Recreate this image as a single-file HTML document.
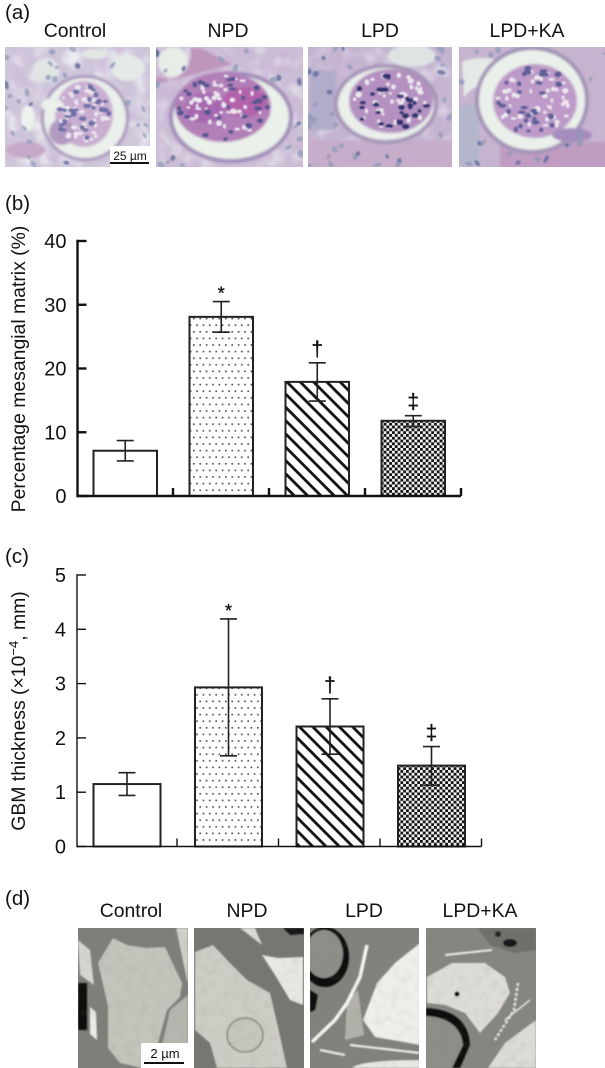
<!DOCTYPE html>
<html>
<head>
<meta charset="utf-8">
<title>Renal histology and morphometry figure</title>
<style>
html,body{margin:0;padding:0;background:#fff;}
svg{display:block;}
text{font-family:"Liberation Sans",sans-serif;fill:#111;}
</style>
</head>
<body>
<svg id="fig" xmlns="http://www.w3.org/2000/svg" width="605" height="1068" viewBox="0 0 605 1068">
<defs>
<pattern id="dots" patternUnits="userSpaceOnUse" width="6.4" height="13.2" x="0" y="0">
  <rect width="6.4" height="13.2" fill="#fff"/>
  <rect x="1" y="1" width="1.6" height="1.6" fill="#444"/>
  <rect x="4.2" y="7.6" width="1.6" height="1.6" fill="#444"/>
</pattern>
<pattern id="hatch" patternUnits="userSpaceOnUse" width="9.4" height="9.4" patternTransform="rotate(45)">
  <rect width="9.4" height="9.4" fill="#fff"/>
  <rect x="0" y="0" width="9.4" height="2.8" fill="#111"/>
</pattern>
<pattern id="check" patternUnits="userSpaceOnUse" width="5.6" height="5.6">
  <rect width="5.6" height="5.6" fill="#eee"/>
  <rect width="2.8" height="2.8" fill="#151515"/>
  <rect x="2.8" y="2.8" width="2.8" height="2.8" fill="#151515"/>
</pattern>
<filter id="soft" x="-5%" y="-5%" width="110%" height="110%"><feGaussianBlur stdDeviation="0.7"/></filter>
<filter id="soft2" x="-5%" y="-5%" width="110%" height="110%"><feGaussianBlur stdDeviation="1.2"/></filter>
<filter id="paleBlotch" x="0" y="0" width="100%" height="100%">
  <feTurbulence type="fractalNoise" baseFrequency=".06" numOctaves="2" seed="4"/>
  <feColorMatrix values="0 0 0 0 .90  0 0 0 0 .92  0 0 0 0 .93  3 0 0 0 -1.4"/>
  <feGaussianBlur stdDeviation="1"/>
</filter>
<filter id="darkBlotch" x="0" y="0" width="100%" height="100%">
  <feTurbulence type="fractalNoise" baseFrequency=".08" numOctaves="2" seed="11"/>
  <feColorMatrix values="0 0 0 0 .60  0 0 0 0 .45  0 0 0 0 .68  0 3 0 0 -1.4"/>
  <feGaussianBlur stdDeviation="1"/>
</filter>
<filter id="greyGrain" x="0" y="0" width="100%" height="100%">
  <feTurbulence type="fractalNoise" baseFrequency=".12" numOctaves="2" seed="7"/>
  <feColorMatrix values="0 0 0 0 .2  0 0 0 0 .2  0 0 0 0 .19  2 0 0 0 -.9"/>
  <feGaussianBlur stdDeviation=".8"/>
</filter>
<clipPath id="a1"><rect x="5" y="47" width="145" height="120"/></clipPath>
<clipPath id="a2"><rect x="156" y="47" width="147" height="120"/></clipPath>
<clipPath id="a3"><rect x="308" y="47" width="144" height="120"/></clipPath>
<clipPath id="a4"><rect x="459" y="47" width="146" height="120"/></clipPath>
<clipPath id="d1"><rect x="78" y="928" width="110" height="140"/></clipPath>
<clipPath id="d2"><rect x="194" y="928" width="110" height="140"/></clipPath>
<clipPath id="d3"><rect x="310" y="928" width="109" height="140"/></clipPath>
<clipPath id="d4"><rect x="426" y="928" width="110" height="140"/></clipPath>
</defs>

<text x="5" y="19" font-size="20.5">(a)</text>
<g font-size="19.4" text-anchor="middle">
<text x="75" y="37">Control</text>
<text x="228" y="37">NPD</text>
<text x="380" y="37">LPD</text>
<text x="527" y="37">LPD+KA</text>
</g>

<g clip-path="url(#a1)">
  <rect x="5" y="47" width="145" height="120" fill="#cfc6da"/>
  <rect x="5" y="47" width="145" height="120" filter="url(#paleBlotch)" opacity=".8"/>
  <rect x="5" y="47" width="145" height="120" filter="url(#darkBlotch)" opacity=".5"/>
  <g filter="url(#soft2)">
    <ellipse cx="46" cy="70" rx="13" ry="12" fill="#e1e6e5"/>
    <ellipse cx="128" cy="68" rx="17" ry="13" fill="#e4eae7"/>
    <ellipse cx="95" cy="54" rx="14" ry="5" fill="#e2e7e5"/>
    <ellipse cx="28" cy="118" rx="7" ry="13" fill="#eef1ee"/>
    <ellipse cx="26" cy="150" rx="20" ry="8" fill="#c6a9c8"/>
    <ellipse cx="85" cy="118" rx="44" ry="43" fill="#a895bb"/>
    <ellipse cx="85" cy="118" rx="41" ry="40" fill="#ebf0ea"/>
    <ellipse cx="84" cy="114" rx="29" ry="33" fill="#c9aed1"/>
    <ellipse cx="62" cy="132" rx="13" ry="13" fill="#b29ac2"/>
    <ellipse cx="52" cy="105" rx="11" ry="7" fill="#ebf0ea"/>
  </g>
  <g id="cells-a1" filter="url(#soft)"></g>
</g>
<g clip-path="url(#a2)">
  <rect x="156" y="47" width="147" height="120" fill="#cbbdd5"/>
  <rect x="156" y="47" width="147" height="120" filter="url(#paleBlotch)" opacity=".6"/>
  <rect x="156" y="47" width="147" height="120" filter="url(#darkBlotch)" opacity=".8"/>
  <g filter="url(#soft2)">
    <ellipse cx="173" cy="62" rx="15" ry="15" fill="#e8ede8"/>
    <path d="M156 84 Q205 72 232 64 L200 48 L190 48 Q195 70 170 80 L156 76Z" fill="#bd95bd"/>
    <ellipse cx="231" cy="117" rx="62" ry="46" fill="#a08cb8"/>
    <ellipse cx="231" cy="117" rx="58" ry="42" fill="#eaf0ea"/>
    <ellipse cx="223" cy="107" rx="48" ry="35" fill="#b27fb8"/>
    <ellipse cx="245" cy="102" rx="22" ry="15" fill="#b264aa"/>
    <ellipse cx="205" cy="108" rx="20" ry="15" fill="#a669af"/>
  </g>
  <g id="cells-a2" filter="url(#soft)"></g>
</g>
<g clip-path="url(#a3)">
  <rect x="308" y="47" width="144" height="120" fill="#c3b4cf"/>
  <rect x="308" y="47" width="144" height="120" filter="url(#paleBlotch)" opacity=".5"/>
  <rect x="308" y="47" width="144" height="120" filter="url(#darkBlotch)" opacity=".8"/>
  <g filter="url(#soft2)">
    <rect x="310" y="70" width="26" height="60" fill="#b2accb"/>
    <ellipse cx="412" cy="56" rx="24" ry="11" fill="#dde4e2"/>
    <rect x="308" y="140" width="144" height="30" fill="#c6adca"/>
    <ellipse cx="386" cy="104" rx="52" ry="40" fill="#a594b8"/>
    <ellipse cx="386" cy="104" rx="48" ry="36" fill="#eaf0ea"/>
    <ellipse cx="391" cy="101" rx="42" ry="32" fill="#b491c0"/>
  </g>
  <g id="cells-a3" filter="url(#soft)"></g>
</g>
<g clip-path="url(#a4)">
  <rect x="459" y="47" width="146" height="120" fill="#c6b4ce"/>
  <rect x="459" y="47" width="146" height="120" filter="url(#darkBlotch)" opacity=".8"/>
  <g filter="url(#soft2)">
    <rect x="459" y="105" width="20" height="60" fill="#b4b7cc"/>
    <path d="M462 62 Q480 55 497 60 L488 88 Q474 82 464 98Z" fill="#e6eae6"/>
    <rect x="500" y="142" width="110" height="28" fill="#c09cc2"/>
    <ellipse cx="532" cy="100" rx="57" ry="54" fill="#a192b6"/>
    <ellipse cx="532" cy="100" rx="53" ry="50" fill="#eaf0ea"/>
    <ellipse cx="535" cy="101" rx="42" ry="37" fill="#bd9ac8"/>
    <ellipse cx="572" cy="135" rx="20" ry="7" fill="#a48cbc"/>
  </g>
  <g id="cells-a4" filter="url(#soft)"></g>
</g>
<rect x="110" y="146" width="40" height="21" fill="#fff"/>
<text x="130" y="160" font-size="12" text-anchor="middle">25 µm</text>
<rect x="110" y="162" width="39" height="2" fill="#111"/>

<text x="5" y="210" font-size="20.5">(b)</text>
<g id="chart-b"></g>

<text x="5" y="563" font-size="20.5">(c)</text>
<g id="chart-c"></g>

<text x="5" y="905" font-size="20.5">(d)</text>
<g font-size="19.4" text-anchor="middle">
<text x="131" y="917">Control</text>
<text x="247" y="917">NPD</text>
<text x="364" y="917">LPD</text>
<text x="480" y="917">LPD+KA</text>
</g>

<g clip-path="url(#d1)">
  <rect x="78" y="928" width="110" height="140" fill="#7f7f7a"/>
  <g filter="url(#soft)">
    <path d="M176 928 H188 V985Z" fill="#d0d0ca"/>
    <path d="M170 1010 L188 995 V1045 L162 1045Z" fill="#b6b6af"/>
    <path d="M78 940 L90 950 L94 985 L80 975Z" fill="#d6d6d0"/>
    <path d="M98 963 L113 938 L127 945 L147 948 L165 947 L182 983 L180 997 L167 1010 L158 1043 L142 1068 L120 1063 L108 1048 L108 1007 L105 993Z" fill="#c4c4bc"/>
    <rect x="78" y="983" width="9" height="47" fill="#0e0e0e"/>
    <path d="M90 1007 L96 1012 L97 1040 L90 1034Z" fill="#ecece8"/>
  </g>
  <rect x="78" y="928" width="110" height="140" filter="url(#greyGrain)" opacity=".15"/>
</g>
<g clip-path="url(#d2)">
  <rect x="194" y="928" width="110" height="140" fill="#777772"/>
  <g filter="url(#soft)">
    <path d="M195 952 L213 945 L230 963 L247 980 L270 993 L278 1027 L287 1068 L217 1068 L210 1043 L195 1030Z" fill="#cdcdc5"/>
    <path d="M262 955 L278 958 L303 957 V1005 L290 1000 L275 975Z" fill="#e8e8e3"/>
    <path d="M240 928 L262 945 L255 928Z" fill="#dcdcd6"/>
    <ellipse cx="245" cy="1035" rx="18" ry="17" fill="#c6c6be" stroke="#85857e" stroke-width="1.6"/>
    <path d="M283 928 H304 V934 L290 935Z" fill="#161616"/>
  </g>
  <rect x="194" y="928" width="110" height="140" filter="url(#greyGrain)" opacity=".15"/>
</g>
<g clip-path="url(#d3)">
  <rect x="310" y="928" width="110" height="140" fill="#82827c"/>
  <g filter="url(#soft)">
    <path d="M420 943 L395 963 L377 983 L363 1020 L375 1037 L420 1045Z" fill="#eeeeea"/>
    <path d="M347 1000 L358 990 L364 1035 L345 1040Z" fill="#b2b2aa"/>
    <ellipse cx="325" cy="957" rx="24" ry="30" fill="#111"/>
    <ellipse cx="324" cy="954" rx="19" ry="24" fill="#8e8e88"/>
    <path d="M310 990 L318 995 L315 1010 L310 1012Z" fill="#111"/>
    <path d="M367 945 L360 977 L347 1003 L335 1020 L312 1042" fill="none" stroke="#f6f6f4" stroke-width="3.5"/>
    <path d="M350 1045 L420 1053 M320 1050 L345 1055" fill="none" stroke="#f0f0ec" stroke-width="2.2"/>
    <path d="M352 1068 Q360 1060 420 1060 V1068Z" fill="#e8e8e4"/>
  </g>
  <rect x="310" y="928" width="110" height="140" filter="url(#greyGrain)" opacity=".15"/>
</g>
<g clip-path="url(#d4)">
  <rect x="426" y="928" width="110" height="140" fill="#868680"/>
  <g filter="url(#soft)">
    <path d="M427 977 L452 963 L485 963 L505 977 L510 993 L498 1013 L480 1033 L465 1013 L445 1005 L427 1003Z" fill="#dedcd6"/>
    <path d="M426 1008 Q468 1010 470 1045 L460 1068 H426Z" fill="#101010"/>
    <path d="M426 1016 Q460 1018 463 1045 L452 1068 H426Z" fill="#8e8e88"/>
    <path d="M478 928 H536 V950 L515 953 L490 945Z" fill="#6f6f6a"/>
    <ellipse cx="510" cy="943" rx="7" ry="4" fill="#161616"/>
    <circle cx="498" cy="934" r="3" fill="#222"/>
    <path d="M488 1068 L505 1043 L536 1020 V1068Z" fill="#dcdcd6"/>
    <path d="M445 955 L492 950" stroke="#f0f0ec" stroke-width="2" fill="none"/>
    <path d="M518 983 L514 1010 L495 1040" stroke="#f0f0ec" stroke-width="2.4" stroke-dasharray="3 2" fill="none"/>
    <path d="M530 1000 L505 1020" stroke="#e8e8e4" stroke-width="1.6" fill="none"/>
    <circle cx="457" cy="994" r="2.6" fill="#050505"/>
  </g>
  <rect x="426" y="928" width="110" height="140" filter="url(#greyGrain)" opacity=".15"/>
</g>
<rect x="141" y="1043" width="47" height="25" fill="#fff"/>
<text x="165" y="1058" font-size="13" text-anchor="middle">2 µm</text>
<rect x="144" y="1062" width="40" height="2" fill="#111"/>

<script>
// Chart data
var groupNames = ['Control', 'NPD', 'LPD', 'LPD+KA'];
var fills = ['#fff', 'url(#dots)', 'url(#hatch)', 'url(#check)'];
var marks = ['', '*', '†', '‡'];

var bTicks = [0, 10, 20, 30, 40];
var bMeans = [7.1, 28.1, 17.9, 11.8];
var bUpper = [8.7, 30.5, 20.9, 12.6];
var bLower = [5.5, 25.7, 14.9, 10.9];

var cTicks = [0, 1, 2, 3, 4, 5];
var cMeans = [1.15, 2.93, 2.21, 1.49];
var cUpper = [1.36, 4.19, 2.72, 1.84];
var cLower = [0.94, 1.67, 1.70, 1.13];

var NS = 'http://www.w3.org/2000/svg';
function mk(parent, tag, attrs, txt) {
  var e = document.createElementNS(NS, tag);
  for (var k in attrs) e.setAttribute(k, attrs[k]);
  if (txt !== undefined) e.textContent = txt;
  parent.appendChild(e);
  return e;
}

function drawChart(g, o) {
  function y(v) { return o.y0 - v * (o.y0 - o.yTop) / o.ticks[o.ticks.length - 1]; }
  function bandLeft(i) { return o.x0 + o.pad + i * o.step; }

  o.means.forEach(function (m, i) {
    var b = mk(g, 'rect', { x: bandLeft(i), y: y(m), width: o.barW, height: y(0) - y(m), fill: fills[i], stroke: '#222', 'stroke-width': o.barStroke });
    
    

    var cx = bandLeft(i) + o.barW / 2;
    var eb = mk(g, 'path', {
      d: 'M' + cx + ' ' + y(o.lower[i]) + 'V' + y(o.upper[i]) +
         'M' + (cx - 8.5) + ' ' + y(o.upper[i]) + 'h17' +
         'M' + (cx - 8.5) + ' ' + y(o.lower[i]) + 'h17',
      fill: 'none', stroke: '#222', 'stroke-width': 1.6
    });
    
    

    if (marks[i]) {
      var t = mk(g, 'text', { x: cx, y: y(o.upper[i]) - (marks[i] === '*' ? 2 : 7), 'font-size': marks[i] === '*' ? 18 : 21, 'text-anchor': 'middle', stroke: '#111', 'stroke-width': 0.3 }, marks[i]);
      
      
    }
  });

  var xEnd = bandLeft(o.means.length - 1) + o.barW + o.pad;
  var axisY = mk(g, 'path', { d: 'M' + o.x0 + ' ' + (y(0) + o.axisW / 2) + 'V' + (y(o.ticks[o.ticks.length - 1]) - o.axisW / 2), stroke: '#111', 'stroke-width': o.axisW, fill: 'none' });
  
  
  var axisX = mk(g, 'path', { d: 'M' + o.x0 + ' ' + y(0) + 'H' + xEnd, stroke: '#111', 'stroke-width': o.axisW, fill: 'none' });
  
  

  o.ticks.forEach(function (v) {
    var tk = mk(g, 'path', { d: 'M' + o.x0 + ' ' + y(v) + 'h9', stroke: '#111', 'stroke-width': o.axisW, fill: 'none' });
    
    
    var lb = mk(g, 'text', { x: o.x0 - 11, y: y(v) + 7, 'font-size': 20, 'text-anchor': 'end' }, String(v));
    
    
  });
  o.means.forEach(function (m, i) {
    var xt = bandLeft(i) + o.barW + o.pad;
    var tk = mk(g, 'path', { d: 'M' + xt + ' ' + y(0) + 'v-8', stroke: '#111', 'stroke-width': o.axisW, fill: 'none' });
    
    
  });
}

var chartB = document.getElementById('chart-b');
var chartC = document.getElementById('chart-c');

drawChart(chartB, { ticks: bTicks, means: bMeans, upper: bUpper, lower: bLower, x0: 77.5, y0: 496, yTop: 241, pad: 16, step: 96, barW: 63.5, barStroke: 2, axisW: 2.4 });
drawChart(chartC, { ticks: cTicks, means: cMeans, upper: cUpper, lower: cLower, x0: 77, y0: 846.5, yTop: 575, pad: 16.5, step: 101.5, barW: 67, barStroke: 2, axisW: 1.4 });

var tb = mk(chartB, 'text', { transform: 'translate(25,369) rotate(-90)', 'font-size': 19.4, 'text-anchor': 'middle' }, 'Percentage mesangial matrix (%)');



var tc = mk(chartC, 'text', { transform: 'translate(25,711) rotate(-90)', 'font-size': 19.4, 'text-anchor': 'middle' });


mk(tc, 'tspan', {}, 'GBM thickness (×10');
mk(tc, 'tspan', { dy: -7, 'font-size': 13 }, '−4');
mk(tc, 'tspan', { dy: 7 }, ', mm)');

// Micrograph texture: cell nuclei and capillary lumens laid over the painted tissue
function texture(id, box, capsule, tuft, seed, tone) {
  var g = document.getElementById(id);
  var s = seed;
  function r() { s = (s * 16807) % 2147483647; return (s - 1) / 2147483646; }
  var i, x, y, a, d, e, dx, dy;
  for (i = 0; i < 50; i++) {
    x = box[0] + r() * box[2]; y = box[1] + r() * box[3];
    dx = (x - capsule[0]) / capsule[2]; dy = (y - capsule[1]) / capsule[3];
    if (dx * dx + dy * dy < 1.05) continue;
    a = r() * 180;
    e = mk(g, 'ellipse', { cx: x, cy: y, rx: 1.8 + r() * 2.6, ry: 1.4 + r() * 1.8, fill: r() < 0.25 ? '#5a669a' : '#8f99b8', opacity: 0.75, transform: 'rotate(' + a + ' ' + x + ' ' + y + ')' });
    
    
  }
  for (i = 0; i < 50; i++) {
    a = r() * 6.283; d = Math.sqrt(r()) * 0.92;
    x = tuft[0] + Math.cos(a) * d * tuft[2]; y = tuft[1] + Math.sin(a) * d * tuft[3];
    e = mk(g, 'ellipse', { cx: x, cy: y, rx: 1.3 + r() * 2, ry: 1.2 + r() * 1.6, fill: '#ece7ee' });
    
    
  }
  for (i = 0; i < 30; i++) {
    a = r() * 6.283; d = Math.sqrt(r()) * 0.95;
    x = tuft[0] + Math.cos(a) * d * tuft[2]; y = tuft[1] + Math.sin(a) * d * tuft[3];
    e = mk(g, 'ellipse', { cx: x, cy: y, rx: 1.8 + r() * 2.2, ry: 1.4 + r() * 1.5, fill: tone });
    
    
  }
}
texture('cells-a1', [5, 47, 145, 120], [85, 118, 44, 43], [84, 114, 28, 32], 1234, '#6f6fa8');
texture('cells-a2', [156, 47, 147, 120], [231, 117, 62, 46], [223, 107, 47, 34], 4242, '#55558f');
texture('cells-a3', [308, 47, 144, 120], [386, 104, 52, 40], [391, 101, 41, 31], 777, '#333370');
texture('cells-a4', [459, 47, 146, 120], [532, 100, 57, 54], [535, 101, 41, 36], 9001, '#5f5f99');
</script>
</svg>
</body>
</html>
